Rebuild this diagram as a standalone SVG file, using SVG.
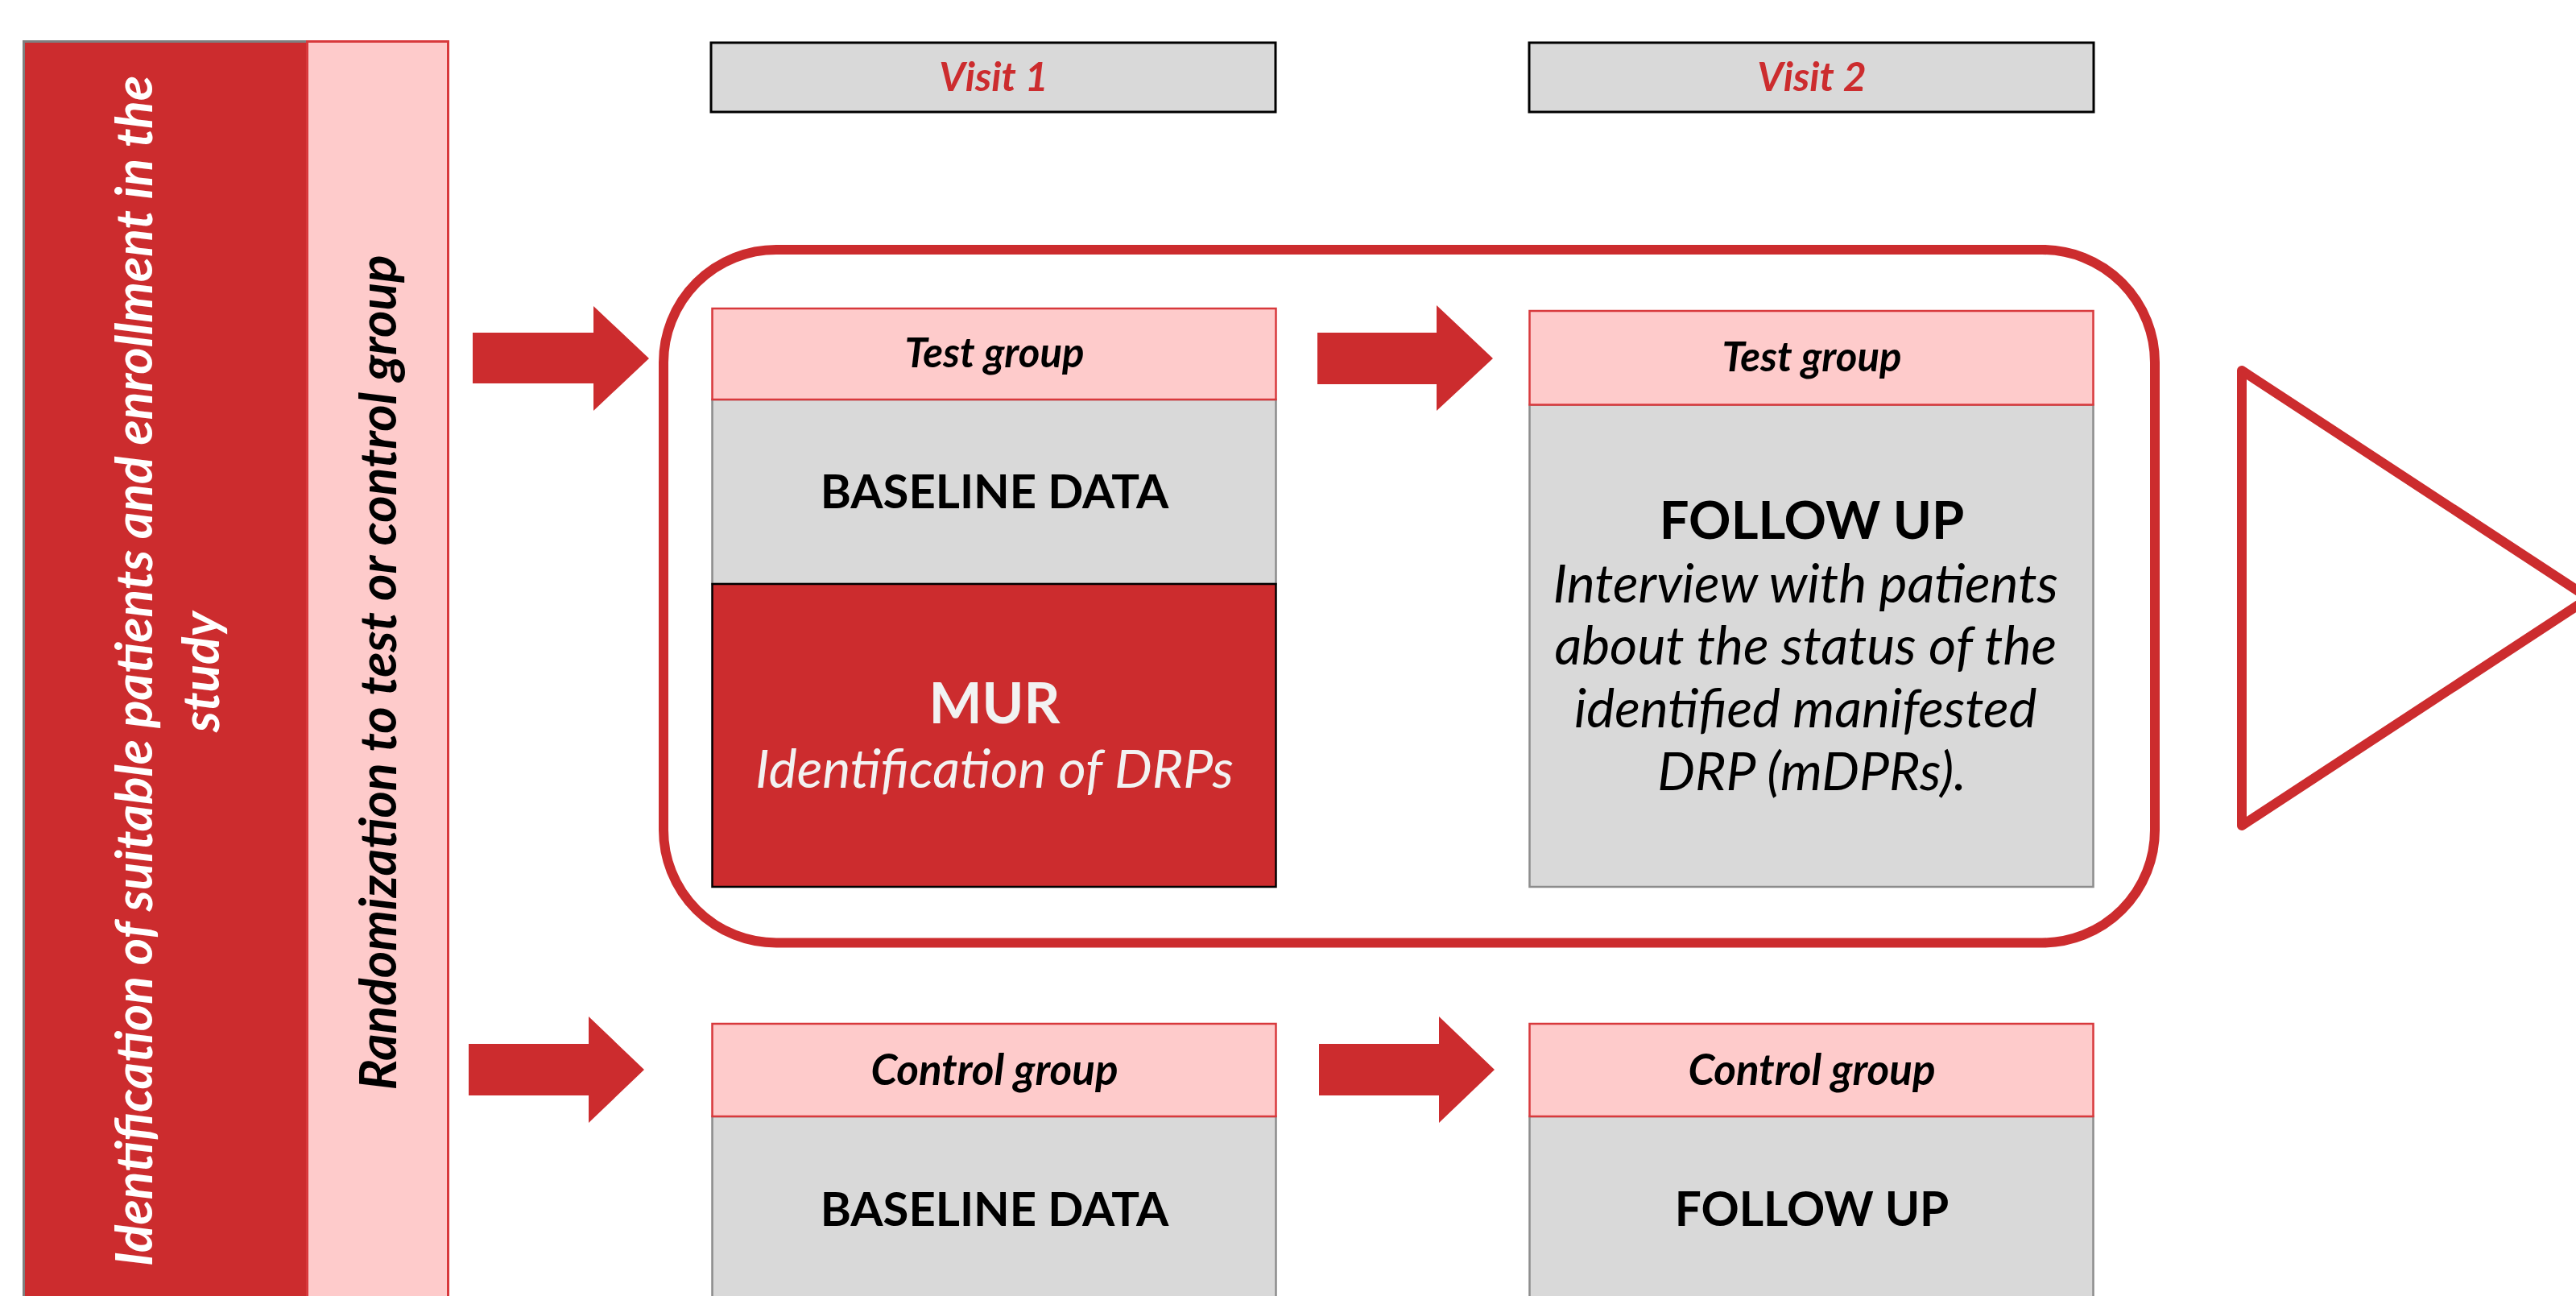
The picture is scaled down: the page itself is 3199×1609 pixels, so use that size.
<svg xmlns="http://www.w3.org/2000/svg" width="3199" height="1609" viewBox="0 0 3199 1609">
  <style>
    .f { font-family: Lato, "Open Sans", "Liberation Sans", sans-serif; }
    .bi { font-weight: 700; font-style: italic; }
    .b { font-weight: 700; }
    .i { font-style: italic; }
    .mid { text-anchor: middle; }
    .hdr { fill: #FECBCB; stroke: #D8393C; stroke-width: 2.5; }
    .body { fill: #D9D9D9; stroke: #8C8C8C; stroke-width: 2.5; }
    .visit { fill: #D9D9D9; stroke: #000; stroke-width: 3; }
    .arrow { fill: #CC2C2E; }
  </style>

  <rect width="3199" height="1609" fill="#FFFFFF"/>

  <!-- Left columns: enrollment and randomization -->
  <g id="enrollment">
    <rect x="29.5" y="51.5" width="352" height="1600" fill="#CC2C2E" stroke="#7F7F7F" stroke-width="3"/>
    <text class="f bi mid" font-size="64" fill="#FFFFFF" transform="translate(189,833) rotate(-90)">Identification of suitable patients and enrollment in the</text>
    <text class="f bi mid" font-size="64" fill="#FFFFFF" transform="translate(272,834) rotate(-90)">study</text>
  </g>
  <g id="randomization">
    <rect x="381.5" y="51.5" width="175" height="1600" fill="#FECBCB" stroke="#D8393C" stroke-width="3"/>
    <text class="f bi mid" font-size="64" fill="#000000" transform="translate(492,835) rotate(-90)">Randomization to test or control group</text>
  </g>

  <!-- Visit labels -->
  <g id="visit1">
    <rect class="visit" x="883" y="53" width="701" height="86"/>
    <text class="f bi mid" x="1234" y="112.5" font-size="50" fill="#CC2C2E">Visit 1</text>
  </g>
  <g id="visit2">
    <rect class="visit" x="1899" y="53" width="701" height="86"/>
    <text class="f bi mid" x="2250" y="112.5" font-size="50" fill="#CC2C2E">Visit 2</text>
  </g>

  <!-- Test group frame -->
  <g id="test-frame">
    <rect x="824" y="310" width="1852" height="860.5" rx="140" ry="140" fill="none" stroke="#CC2C2E" stroke-width="12"/>
  </g>

  <!-- Test group, visit 1 -->
  <g id="test-visit1">
    <rect class="body" x="884.5" y="496" width="700" height="229"/>
    <rect class="hdr" x="884.5" y="383" width="700" height="113"/>
    <text class="f bi mid" x="1235" y="455.5" font-size="51">Test group</text>
    <text class="f b mid" x="1235" y="631" font-size="58">BASELINE DATA</text>
    <rect x="884.5" y="725" width="700" height="376" fill="#CC2C2E" stroke="#000" stroke-width="2.5"/>
    <text class="f b mid" x="1235" y="898" font-size="70" fill="#F2F2F2">MUR</text>
    <text class="f i mid" x="1235" y="977.7" font-size="66" fill="#F2F2F2">Identification of DRPs</text>
  </g>

  <!-- Test group, visit 2 -->
  <g id="test-visit2">
    <rect class="body" x="1899.5" y="502.5" width="700" height="598.5"/>
    <rect class="hdr" x="1899.5" y="386" width="700" height="116.5"/>
    <text class="f bi mid" x="2250" y="461" font-size="51">Test group</text>
    <text class="f b mid" x="2250" y="669" font-size="65">FOLLOW UP</text>
    <text class="f i mid" font-size="66">
      <tspan x="2250" y="748">Interview with patients</tspan>
      <tspan x="2250" y="825">about the status of the</tspan>
      <tspan x="2250" y="903">identified manifested</tspan>
      <tspan x="2250" y="981">DRP (mDPRs).</tspan>
    </text>
  </g>

  <!-- Control group, visit 1 -->
  <g id="control-visit1">
    <rect class="body" x="884.5" y="1386" width="700" height="260"/>
    <rect class="hdr" x="884.5" y="1271" width="700" height="115"/>
    <text class="f bi mid" x="1235" y="1346.7" font-size="53">Control group</text>
    <text class="f b mid" x="1235" y="1521.7" font-size="58">BASELINE DATA</text>
  </g>

  <!-- Control group, visit 2 -->
  <g id="control-visit2">
    <rect class="body" x="1899.5" y="1386" width="700" height="260"/>
    <rect class="hdr" x="1899.5" y="1271" width="700" height="115"/>
    <text class="f bi mid" x="2250" y="1346.7" font-size="53">Control group</text>
    <text class="f b mid" x="2250" y="1521.7" font-size="58.5">FOLLOW UP</text>
  </g>

  <!-- Outcome triangle -->
  <g id="outcome">
    <polygon points="2784,460 3215,742.5 2784,1025" fill="#FFFFFF" stroke="#CC2C2E" stroke-width="12" stroke-linejoin="round"/>
  </g>

  <!-- Block arrows -->
  <g id="connectors">
    <polygon class="arrow" points="587,413 737,413 737,380 806,445 737,510 737,476 587,476"/>
    <polygon class="arrow" points="1636,413 1784,413 1784,379 1854,445 1784,510 1784,477 1636,477"/>
    <polygon class="arrow" points="582,1296 731,1296 731,1262 800,1328 731,1394 731,1360 582,1360"/>
    <polygon class="arrow" points="1638,1296 1787,1296 1787,1262 1856,1328 1787,1394 1787,1360 1638,1360"/>
  </g>
</svg>
